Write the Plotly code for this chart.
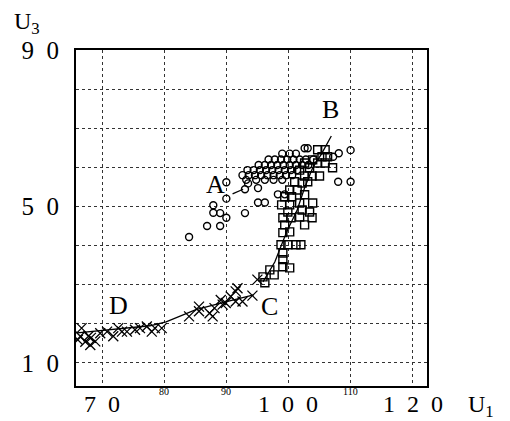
import plotly.graph_objects as go

# Group D -> C (crosses)
cross_u1 = [66.1, 66.5, 66.7, 67.3, 67.8, 68.1, 68.2, 68.9, 69.7, 70.8, 71.8, 72.6, 73.2,
            74.0, 75.3, 76.1, 77.2, 78.0, 78.5, 79.6, 84.0, 85.6, 85.6, 87.3, 87.8, 88.1,
            89.1, 89.4, 89.9, 90.7, 91.5, 91.5, 91.8, 92.6, 94.2, 95.0]
cross_u3 = [15.9, 16.8, 18.9, 15.4, 16.8, 14.6, 16.4, 15.5, 17.6, 18.0, 16.8, 18.9, 18.0,
            18.0, 18.5, 18.9, 19.3, 18.0, 18.9, 18.9, 21.9, 24.4, 23.2, 22.7, 21.9, 24.0,
            26.1, 24.9, 25.3, 27.0, 28.3, 25.7, 29.1, 25.7, 27.2, 31.3]

# Group C -> B (squares)
square_u1 = [104.7, 105.9, 105.4, 106.3, 103.9, 104.7, 105.9, 107.1, 102.6, 103.4, 101.8,
             102.6, 103.8, 105.0, 101.0, 102.2, 103.1, 100.2, 101.4, 102.6, 99.4, 100.5,
             101.8, 103.9, 98.9, 100.2, 99.9, 102.2, 103.4, 99.1, 100.4, 101.8, 102.6,
             103.8, 99.4, 100.2, 99.1, 98.8, 99.9, 101.2, 102.0, 99.1, 99.1, 99.1, 100.2,
             97.0, 97.7, 95.9, 96.2]
square_u3 = [64.5, 64.5, 62.7, 62.7, 61.9, 61.1, 61.1, 59.9, 61.1, 59.9, 59.3,
             57.8, 57.8, 57.8, 56.3, 56.0, 56.3, 54.2, 54.2, 53.0, 52.5, 52.5,
             50.9, 50.9, 50.4, 50.4, 48.6, 49.1, 48.6, 47.1, 47.1, 47.3, 45.3,
             47.1, 45.3, 43.5, 43.3, 40.2, 40.2, 40.2, 40.2, 38.1, 36.4, 34.6, 34.3,
             33.8, 32.5, 32.0, 30.5]

# Group A (circles)
circle_u1 = [84.0, 86.9, 89.0, 87.9, 89.0, 90.0, 87.9, 93.0, 90.0, 90.0, 93.0, 95.1, 96.2,
             98.3, 99.4, 107.2, 108.1, 110.0, 108.0, 110.0, 103.1, 102.6,
             99.0, 100.2, 101.2,
             96.8, 97.8, 98.8, 99.8, 100.8, 101.8, 102.8, 104.0,
             95.2, 96.2, 97.2, 98.2, 99.2, 100.2, 101.2, 102.2, 103.2,
             93.4, 94.4, 95.4, 96.4, 97.4, 98.4, 99.4, 100.4, 101.4,
             92.6, 93.6, 94.6, 95.6, 96.6, 97.6, 98.6, 99.6, 100.6,
             93.2, 94.8, 96.2, 97.6, 99.0,
             93.5, 95.1]
circle_u3 = [42.2, 45.0, 45.0, 48.4, 48.3, 47.1, 50.3, 48.3, 52.0, 56.2, 54.4, 51.0, 51.0,
             53.1, 53.1, 62.7, 63.6, 64.4, 56.3, 56.3, 64.9, 64.9,
             63.5, 63.5, 63.5,
             62.0, 62.0, 62.0, 62.0, 62.0, 62.0, 62.0, 62.0,
             60.6, 60.6, 60.6, 60.6, 60.6, 60.6, 60.6, 60.6, 60.6,
             59.3, 59.3, 59.3, 59.3, 59.3, 59.3, 59.3, 59.3, 59.3,
             58.0, 58.0, 58.0, 58.0, 58.0, 58.0, 58.0, 58.0, 58.0,
             56.8, 56.8, 56.8, 56.8, 56.8,
             55.9, 54.7]

# Trend curves and label leaders
dc_u1 = [66.0, 77.7, 80.3, 85.1, 89.9, 94.4]
dc_u3 = [17.7, 19.5, 20.5, 23.6, 25.6, 27.4]
cb_u1 = [95.9, 97.8, 99.7, 101.4, 102.6, 103.9, 105.3, 106.9]
cb_u3 = [30.7, 35.8, 43.5, 49.1, 54.8, 59.9, 63.4, 68.0]
a_u1 = [91.0, 92.7]
a_u3 = [53.2, 54.4]

labels = ["A", "B", "C", "D"]
label_u1 = [88.2, 106.8, 97.0, 72.7]
label_u3 = [55.5, 74.7, 24.4, 24.6]

x_ticks = [70, 80, 90, 100, 110, 120]
x_big = [70, 100, 120]
x_big_text = ["7\u20020", "1\u20020\u20020", "1\u20022\u20020"]
x_small = [80, 90, 110]
y_ticks = [10, 20, 30, 40, 50, 60, 70, 80, 90]
y_text = ["1\u20020", "", "", "", "5\u20020", "", "", "", "9\u20020"]

SERIF = "Liberation Serif"
INK = "black"

# plot area in pixels: left 76, right 427, top 50, bottom 386
PX_L, PX_R, PX_T, PX_B = 76, 427, 50, 386


def paper_x(px):
    return (px - PX_L) / (PX_R - PX_L)


def paper_y(py):
    return (PX_B - py) / (PX_B - PX_T)


fig = go.Figure()
for xs, ys in [(dc_u1, dc_u3), (cb_u1, cb_u3), (a_u1, a_u3)]:
    fig.add_trace(go.Scatter(x=xs, y=ys, mode="lines",
                             line=dict(color=INK, width=1.3), hoverinfo="skip"))

fig.add_trace(go.Scatter(x=cross_u1, y=cross_u3, mode="markers",
                         marker=dict(symbol="x-thin-open", size=10, color=INK,
                                     line=dict(color=INK, width=1.3))))
fig.add_trace(go.Scatter(x=square_u1, y=square_u3, mode="markers",
                         marker=dict(symbol="square-open", size=8, color=INK,
                                     line=dict(color=INK, width=1.4))))
fig.add_trace(go.Scatter(x=circle_u1, y=circle_u3, mode="markers",
                         marker=dict(symbol="circle-open", size=7, color=INK,
                                     line=dict(color=INK, width=1.4))))

for t, xv, yv in zip(labels, label_u1, label_u3):
    fig.add_annotation(x=xv, y=yv, text=t, showarrow=False,
                       font=dict(family=SERIF, size=26, color=INK))

# large U1 tick labels, placed just under the frame
for v, t in zip(x_big, x_big_text):
    fig.add_annotation(x=v, y=paper_y(404), yref="paper", yanchor="middle", text=t,
                       showarrow=False, font=dict(family=SERIF, size=24, color=INK))

for v in x_small:
    fig.add_annotation(x=v, y=0, yref="paper", yanchor="top", text=str(v),
                       showarrow=False, yshift=2,
                       font=dict(family=SERIF, size=10, color=INK))

fig.add_annotation(x=paper_x(12), y=paper_y(6), xref="paper", yref="paper",
                   text="U<sub>3</sub>", showarrow=False, xanchor="left", yanchor="top",
                   font=dict(family=SERIF, size=24, color=INK))
fig.add_annotation(x=paper_x(466), y=paper_y(389), xref="paper", yref="paper",
                   text="U<sub>1</sub>", showarrow=False, xanchor="left", yanchor="top",
                   font=dict(family=SERIF, size=24, color=INK))

axis_common = dict(showgrid=True, gridcolor="#333", griddash="dot", gridwidth=1,
                   showline=True, linecolor=INK, linewidth=2, mirror=True,
                   ticks="", zeroline=False, automargin=False)

fig.update_layout(
    width=510, height=421,
    margin=dict(l=PX_L, r=510 - PX_R, t=PX_T, b=421 - PX_B),
    paper_bgcolor="white", plot_bgcolor="white",
    showlegend=False,
    xaxis=dict(range=[65.8, 122.3], tickvals=x_ticks, showticklabels=False,
               **axis_common),
    yaxis=dict(range=[4.1, 90], tickvals=y_ticks, ticktext=y_text,
               ticklabelstandoff=10,
               tickfont=dict(family=SERIF, size=25, color=INK), **axis_common),
)

fig.write_html("out.html")
